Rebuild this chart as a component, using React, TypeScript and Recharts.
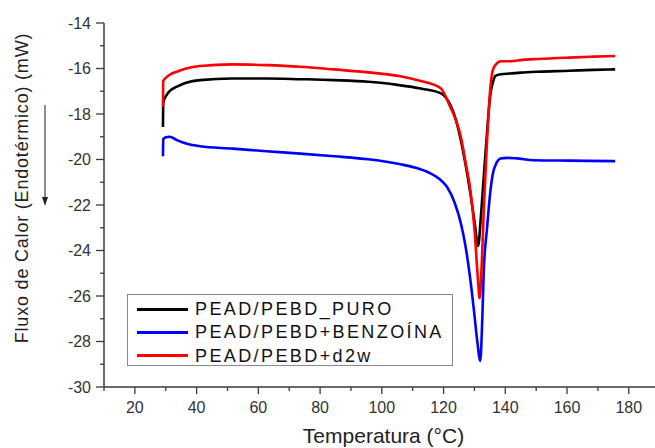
import { LineChart, Line, XAxis, YAxis, Label } from "recharts";

const FONT = "Arial, 'Liberation Sans', sans-serif";

// temperature (°C) / heat flow (mW)
const tempPuro = [29.1, 29.2, 30.1, 31.6, 33.6, 36.6, 41.1, 51.6, 62.6, 73.6, 84.6, 95.6, 99.6, 105.6, 112.6, 119, 122.2, 124.1, 125.6, 127.1, 128.7, 130.1, 131.2, 132.1, 133, 133.9, 135.2, 136.1, 136.8, 138.6, 141.6, 145, 150.6, 160.6, 168.6, 175.6];
const fluxoPuro = [-18.57, -17.5, -17.2, -16.95, -16.8, -16.63, -16.51, -16.44, -16.44, -16.47, -16.51, -16.58, -16.63, -16.73, -16.88, -17.08, -17.6, -18.3, -19.15, -20.2, -21.5, -22.8, -23.8, -22.5, -20.8, -19.15, -17.1, -16.55, -16.32, -16.25, -16.22, -16.18, -16.14, -16.1, -16.06, -16.04];

const tempBenz = [29.1, 29.2, 30.1, 31.3, 33.6, 36.6, 41.1, 51.6, 62.6, 73.6, 84.6, 95.6, 105.6, 110.6, 115.6, 118.6, 121.1, 123.6, 125.6, 127.1, 128.7, 129.9, 130.9, 131.9, 132.5, 133, 134.1, 135.2, 136, 136.8, 138.5, 140.6, 143.6, 149.2, 160.6, 175.6];
const fluxoBenz = [-19.86, -19.1, -19.02, -19.0, -19.15, -19.3, -19.42, -19.52, -19.64, -19.74, -19.86, -19.99, -20.2, -20.35, -20.6, -20.85, -21.2, -21.9, -22.8, -23.8, -25.3, -26.7, -27.96, -28.85, -27.2, -25.0, -23.0, -21.36, -20.6, -20.26, -19.96, -19.93, -19.95, -20.03, -20.05, -20.07];

const tempD2w = [29.1, 29.2, 30.1, 31.6, 33.6, 36.6, 41.1, 51.6, 62.6, 73.6, 84.6, 95.6, 105.6, 112.6, 119, 122.2, 124.1, 125.6, 127.1, 128.7, 130.1, 131.1, 131.7, 132.4, 133.1, 134.1, 135.2, 135.9, 136.8, 138.6, 141.6, 145.6, 150.6, 160.6, 168.6, 175.6];
const fluxoD2w = [-17.69, -16.55, -16.4, -16.25, -16.14, -16.0, -15.89, -15.82, -15.85, -15.92, -16.04, -16.17, -16.33, -16.55, -16.86, -17.7, -18.3, -19.0, -20.1, -21.36, -23.2, -25.2, -26.1, -24.5, -22.0, -19.15, -16.8, -16.1, -15.85, -15.68, -15.68, -15.62, -15.58, -15.52, -15.48, -15.45];

const seriesNames = ["PEAD/PEBD_PURO", "PEAD/PEBD+BENZOÍNA", "PEAD/PEBD+d2w"];
const seriesColors = ["#000000", "#0000ff", "#ff0000"];

const xTicks = [10, 20, 30, 40, 50, 60, 70, 80, 90, 100, 110, 120, 130, 140, 150, 160, 170, 180];
const yTicks = [-30, -29, -28, -27, -26, -25, -24, -23, -22, -21, -20, -19, -18, -17, -16, -15, -14];

const toRows = (t: number[], v: number[]) => t.map((x, i) => ({ t: x, v: v[i] }));

const series = [
  toRows(tempPuro, fluxoPuro),
  toRows(tempBenz, fluxoBenz),
  toRows(tempD2w, fluxoD2w),
];

const AXIS = "#3a3a3a";

function XTick(props: any) {
  const { x, y, payload } = props;
  const major = payload.value % 20 === 0;
  return (
    <g>
      <line x1={x} y1={y} x2={x} y2={y + (major ? 7 : 4)} stroke={AXIS} strokeWidth={1.3} />
      {major && (
        <text x={x} y={y + 26} textAnchor="middle" fontSize={16} fill="#333" fontFamily={FONT}>
          {payload.value}
        </text>
      )}
    </g>
  );
}

function YTick(props: any) {
  const { x, y, payload } = props;
  const major = Math.abs(payload.value % 2) === 0;
  return (
    <g>
      <line x1={x} y1={y} x2={x - (major ? 8 : 4)} y2={y} stroke={AXIS} strokeWidth={1.3} />
      {major && (
        <text x={x - 13} y={y} dy="0.35em" textAnchor="end" fontSize={16} fill="#333" fontFamily={FONT}>
          {payload.value}
        </text>
      )}
    </g>
  );
}

function YTitle() {
  return (
    <g>
      <text
        x={22}
        y={188}
        transform="rotate(-90 22 188)"
        textAnchor="middle"
        dominantBaseline="central"
        fontSize={18}
        letterSpacing={0.8}
        fill="#222"
        fontFamily={FONT}
      >
        Fluxo de Calor (Endotérmico) (mW)
      </text>
      <line x1={45} y1={105} x2={45} y2={198} stroke="#222" strokeWidth={1} />
      <polygon points="42,197 48,197 45,206" fill="#222" />
    </g>
  );
}

export default function App() {
  return (
    <div style={{ position: "absolute", left: 0, top: 0, width: 655, height: 448, background: "#fff" }}>
      <LineChart width={655} height={448} margin={{ top: 23, right: 0, bottom: 21, left: 44 }}>
        <XAxis
          type="number"
          dataKey="t"
          domain={[10, 188.5]}
          ticks={xTicks}
          interval={0}
          tickSize={0}
          tickMargin={0}
          tick={XTick}
          height={40}
          allowDataOverflow
          axisLine={{ stroke: AXIS, strokeWidth: 1.5 }}
        >
          <Label
            value="Temperatura (°C)"
            position="insideBottom"
            offset={-16}
            fontSize={21}
            fill="#222"
            fontFamily={FONT}
            dx={4}
          />
        </XAxis>
        <YAxis
          type="number"
          domain={[-30, -14]}
          ticks={yTicks}
          interval={0}
          tickSize={0}
          tickMargin={0}
          tick={YTick}
          width={60}
          allowDataOverflow
          axisLine={{ stroke: AXIS, strokeWidth: 1.5 }}
        >
          <Label content={YTitle} />
        </YAxis>
        {series.map((rows, i) => (
          <Line
            key={seriesNames[i]}
            data={rows}
            dataKey="v"
            name={seriesNames[i]}
            type="monotone"
            stroke={seriesColors[i]}
            strokeWidth={2.6}
            dot={false}
            activeDot={false}
            isAnimationActive={false}
          />
        ))}
      </LineChart>
      <div
        style={{
          position: "absolute",
          left: 127,
          top: 294,
          width: 326,
          height: 72,
          boxSizing: "border-box",
          border: "1px solid #8a8a8a",
          background: "#fff",
          fontFamily: FONT,
        }}
      >
        {seriesNames.map((name, i) => (
          <div
            key={name}
            style={{
              position: "absolute",
              left: 0,
              top: 2 + i * 23.3,
              height: 24,
              display: "flex",
              alignItems: "center",
            }}
          >
            <div style={{ marginLeft: 9, width: 51, height: 3, background: seriesColors[i] }} />
            <span style={{ marginLeft: 7, fontSize: 18, letterSpacing: 2.4, color: "#111", lineHeight: "24px" }}>
              {name}
            </span>
          </div>
        ))}
      </div>
    </div>
  );
}
